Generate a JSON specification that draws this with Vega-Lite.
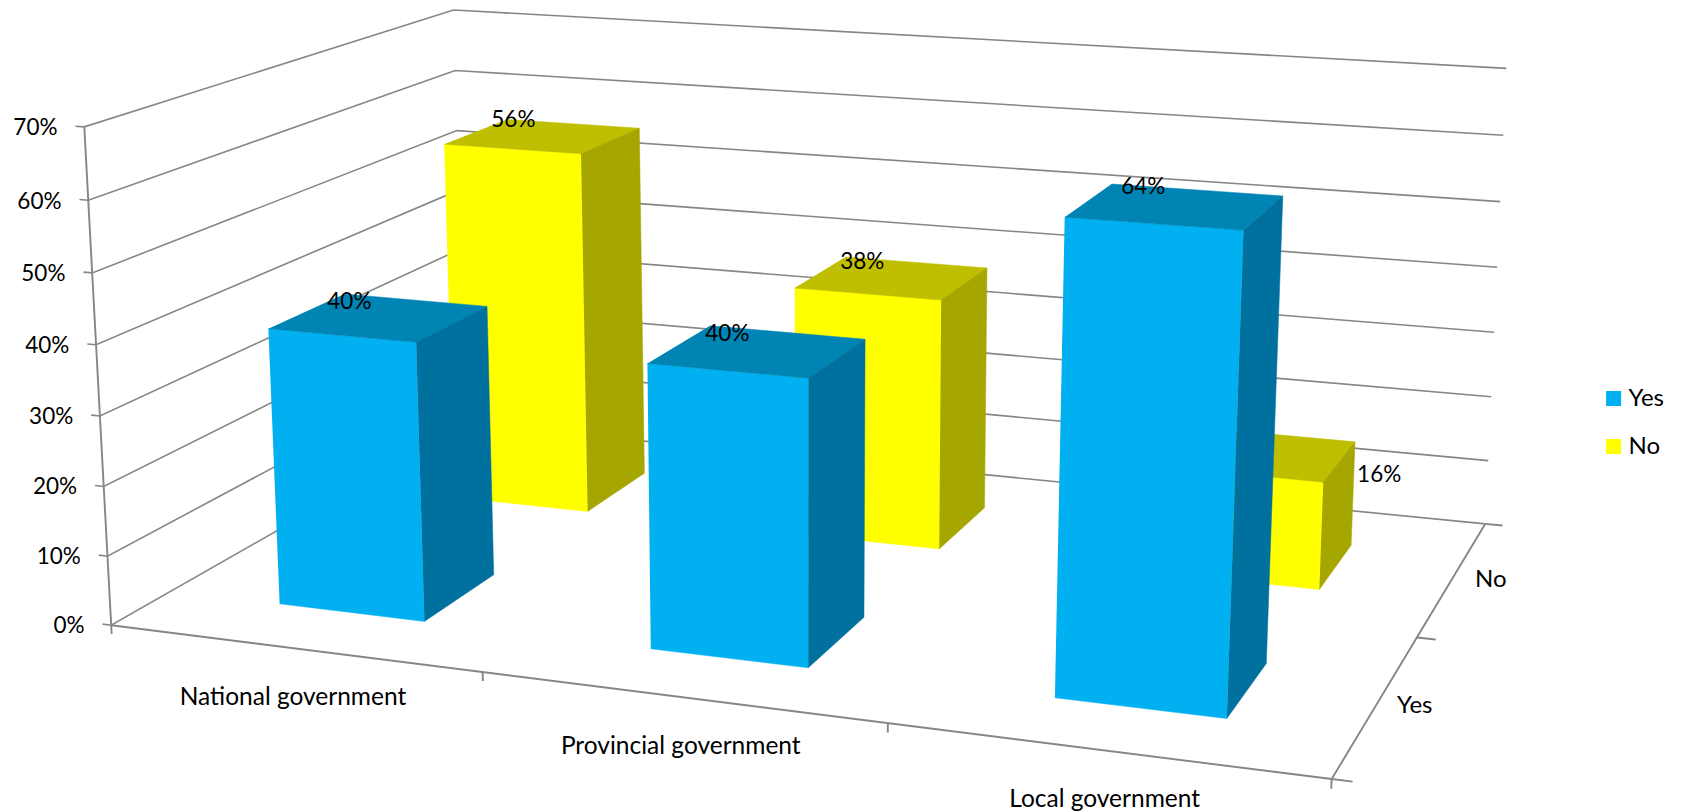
{
"$schema":"https://vega.github.io/schema/vega-lite/v6.json",
"width":1683,"height":812,"padding":0,
"autosize":{"type":"fit","contains":"padding"},
"background":"white",
"config":{"view":{"stroke":null},"text":{"font":"Lato","fontSize":22.5,"color":"#000000"}},
"datasets":{
"bars":[
{"government":"National government","response":"No","value":56},
{"government":"Provincial government","response":"No","value":38},
{"government":"Local government","response":"No","value":16},
{"government":"National government","response":"Yes","value":40},
{"government":"Provincial government","response":"Yes","value":40},
{"government":"Local government","response":"Yes","value":64}],
"levels":[{"percent":0},{"percent":10},{"percent":20},{"percent":30},{"percent":40},{"percent":50},{"percent":60},{"percent":70}],
"parts":[
{"part":"value edge","tick":0},{"part":"category edge","tick":0},{"part":"series edge","tick":0},
{"part":"category tick","tick":0},{"part":"category tick","tick":1},{"part":"category tick","tick":2},{"part":"category tick","tick":3},
{"part":"series tick","tick":0},{"part":"series tick","tick":1},{"part":"series tick","tick":2}],
"categories":[{"government":"National government"},{"government":"Provincial government"},{"government":"Local government"}],
"series":[{"response":"Yes"},{"response":"No"}]
},
"encoding":{
"x":{"field":"sx","type":"quantitative","axis":null,"scale":{"domain":[0,1683],"nice":false,"zero":false}},
"y":{"field":"sy","type":"quantitative","axis":null,"scale":{"domain":[812,0],"nice":false,"zero":false}}
},
"layer":[
{"data":{"name":"levels"},
"transform":[
{"calculate":"[0,1,2,3]","as":"ord"},
{"calculate":"[-0.008,0,0,1]","as":"u"},
{"calculate":"[0,0,1,1]","as":"v"},
{"flatten":["ord","u","v"]},
{"calculate":"datum.percent/70","as":"w"},
{"calculate":"(111.2+1054*datum.u+453.8*datum.v-29.85*datum.w+4*datum.u*datum.w*(1-datum.v))/(1-0.125*datum.u+0.215*datum.v-0.035*datum.w)","as":"sx"},
{"calculate":"(626+56.5*datum.u-110.8*datum.v-503.44*datum.w+4*datum.u*datum.w)/(1-0.125*datum.u+0.215*datum.v-0.035*datum.w)","as":"sy"}],
"mark":{"type":"line","stroke":"#868686","strokeWidth":1.6},
"encoding":{"detail":{"field":"percent"},"order":{"field":"ord","type":"quantitative"}}},
{"data":{"name":"parts"},
"transform":[
{"calculate":"[0,1]","as":"ord"},
{"calculate":"datum.part==='category edge'?[0,1]:datum.part==='series edge'?[1,1]:datum.part==='value edge'?[0,0]:datum.part==='category tick'?[datum.tick/3,datum.tick/3]:[1,1.015]","as":"u"},
{"calculate":"datum.part==='series edge'?[0,1]:datum.part==='series tick'?[datum.tick/2,datum.tick/2]:[0,0]","as":"v"},
{"calculate":"datum.part==='value edge'?[0,1]:datum.part==='category tick'?[0,-0.018]:[0,0]","as":"w"},
{"flatten":["ord","u","v","w"]},
{"calculate":"(111.2+1054*datum.u+453.8*datum.v-29.85*datum.w+4*datum.u*datum.w*(1-datum.v))/(1-0.125*datum.u+0.215*datum.v-0.035*datum.w)","as":"sx"},
{"calculate":"(626+56.5*datum.u-110.8*datum.v-503.44*datum.w+4*datum.u*datum.w)/(1-0.125*datum.u+0.215*datum.v-0.035*datum.w)","as":"sy"}],
"mark":{"type":"line","stroke":"#868686","strokeWidth":1.9},
"encoding":{"detail":[{"field":"part"},{"field":"tick"}],"order":{"field":"ord","type":"quantitative"}}},
{"data":{"name":"bars"},
"transform":[
{"calculate":"(indexof(['National government','Provincial government','Local government'],datum.government)+0.5)/3","as":"cu"},
{"calculate":"datum.response==='Yes'?0.25:0.75","as":"cv"},
{"calculate":"['front','top','side']","as":"face"},
{"flatten":["face"]},
{"calculate":"[0,1,2,3]","as":"ord"},
{"calculate":"datum.face==='side'?[1,1,1,1]:[-1,1,1,-1]","as":"su"},
{"calculate":"datum.face==='front'?[-1,-1,-1,-1]:datum.face==='top'?[-1,-1,1,1]:[-1,1,1,-1]","as":"sv"},
{"calculate":"datum.face==='top'?[1,1,1,1]:[0,0,1,1]","as":"sw"},
{"flatten":["ord","su","sv","sw"]},
{"calculate":"datum.cu+datum.su*0.4/6","as":"u"},
{"calculate":"datum.cv+datum.sv*0.1","as":"v"},
{"calculate":"datum.sw*datum.value/70","as":"w"},
{"calculate":"datum.face==='front'?datum.response:datum.response+' '+datum.face","as":"paint"},
{"calculate":"(111.7+1054*datum.u+453.8*datum.v-29.85*datum.w+4*datum.u*datum.w*(1-datum.v))/(1-0.125*datum.u+0.215*datum.v-0.035*datum.w)","as":"sx"},
{"calculate":"(627.5+56.5*datum.u-110.8*datum.v-503.44*datum.w+4*datum.u*datum.w)/(1-0.125*datum.u+0.215*datum.v-0.035*datum.w)","as":"sy"}],
"mark":{"type":"line","strokeWidth":0.5},
"encoding":{
"detail":[{"field":"government"},{"field":"response"},{"field":"face"}],
"order":{"field":"ord","type":"quantitative"},
"fill":{"field":"paint","type":"nominal",
"scale":{"domain":["Yes","No","Yes top","No top","Yes side","No side"],"range":["#00B0F0","#FFFF00","#0084B4","#BFBF00","#00709F","#A6A600"]},
"legend":{"values":["Yes","No"],"title":null,"orient":"none","legendX":1601.6,"legendY":386.5,"symbolType":"square","symbolSize":225,"symbolStrokeWidth":0,"labelFont":"Lato","labelFontSize":24,"labelColor":"#000000","rowPadding":24,"labelOffset":3,"padding":0}},
"stroke":{"field":"paint","type":"nominal","legend":null,
"scale":{"domain":["Yes","No","Yes top","No top","Yes side","No side"],"range":["#00B0F0","#FFFF00","#0084B4","#BFBF00","#00709F","#A6A600"]}}
}},
{"data":{"name":"levels"},
"transform":[
{"calculate":"-0.008","as":"u"},{"calculate":"0","as":"v"},{"calculate":"datum.percent/70","as":"w"},
{"calculate":"datum.percent+'%'","as":"label"},
{"calculate":"(111.2+1054*datum.u+453.8*datum.v-29.85*datum.w)/(1-0.125*datum.u+0.215*datum.v-0.035*datum.w)","as":"sx"},
{"calculate":"(626+56.5*datum.u-110.8*datum.v-503.44*datum.w)/(1-0.125*datum.u+0.215*datum.v-0.035*datum.w)","as":"sy"}],
"mark":{"type":"text","align":"right","baseline":"middle","dx":-18,"dy":2},
"encoding":{"text":{"field":"label"}}},
{"data":{"name":"categories"},
"transform":[
{"calculate":"(indexof(['National government','Provincial government','Local government'],datum.government)+0.5)/3","as":"u"},
{"calculate":"0","as":"v"},{"calculate":"0","as":"w"},
{"calculate":"(111.2+1054*datum.u+453.8*datum.v-29.85*datum.w)/(1-0.125*datum.u+0.215*datum.v-0.035*datum.w)","as":"sx"},
{"calculate":"(626+56.5*datum.u-110.8*datum.v-503.44*datum.w)/(1-0.125*datum.u+0.215*datum.v-0.035*datum.w)","as":"sy"}],
"mark":{"type":"text","align":"center","baseline":"middle","dy":49.5,"fontSize":24.5},
"encoding":{"text":{"field":"government"}}},
{"data":{"name":"series"},
"transform":[
{"calculate":"1","as":"u"},
{"calculate":"datum.response==='Yes'?0.25:0.75","as":"v"},{"calculate":"0","as":"w"},
{"calculate":"(111.2+1054*datum.u+453.8*datum.v-29.85*datum.w)/(1-0.125*datum.u+0.215*datum.v-0.035*datum.w)","as":"sx"},
{"calculate":"(626+56.5*datum.u-110.8*datum.v-503.44*datum.w)/(1-0.125*datum.u+0.215*datum.v-0.035*datum.w)","as":"sy"}],
"mark":{"type":"text","align":"center","baseline":"middle","dx":38,"dy":2,"fontSize":24},
"encoding":{"text":{"field":"response"}}},
{"data":{"name":"bars"},
"transform":[
{"filter":"datum.value!==16"},
{"calculate":"(indexof(['National government','Provincial government','Local government'],datum.government)+0.5)/3","as":"u"},
{"calculate":"datum.response==='Yes'?0.25:0.75","as":"v"},{"calculate":"datum.value/70","as":"w"},
{"calculate":"datum.value+'%'","as":"label"},
{"calculate":"(111.2+1054*datum.u+453.8*datum.v-29.85*datum.w)/(1-0.125*datum.u+0.215*datum.v-0.035*datum.w)","as":"sx"},
{"calculate":"(626+56.5*datum.u-110.8*datum.v-503.44*datum.w)/(1-0.125*datum.u+0.215*datum.v-0.035*datum.w)","as":"sy"}],
"mark":{"type":"text","align":"center","baseline":"middle","dx":-29,"dy":-14},
"encoding":{"text":{"field":"label"}}},
{"data":{"name":"bars"},
"transform":[
{"filter":"datum.value===16"},
{"calculate":"(indexof(['National government','Provincial government','Local government'],datum.government)+0.5)/3","as":"u"},
{"calculate":"datum.response==='Yes'?0.25:0.75","as":"v"},{"calculate":"datum.value/70","as":"w"},
{"calculate":"datum.value+'%'","as":"label"},
{"calculate":"(111.2+1054*datum.u+453.8*datum.v-29.85*datum.w)/(1-0.125*datum.u+0.215*datum.v-0.035*datum.w)","as":"sx"},
{"calculate":"(626+56.5*datum.u-110.8*datum.v-503.44*datum.w)/(1-0.125*datum.u+0.215*datum.v-0.035*datum.w)","as":"sy"}],
"mark":{"type":"text","align":"center","baseline":"middle","dx":118,"dy":22.5},
"encoding":{"text":{"field":"label"}}}
]
}
